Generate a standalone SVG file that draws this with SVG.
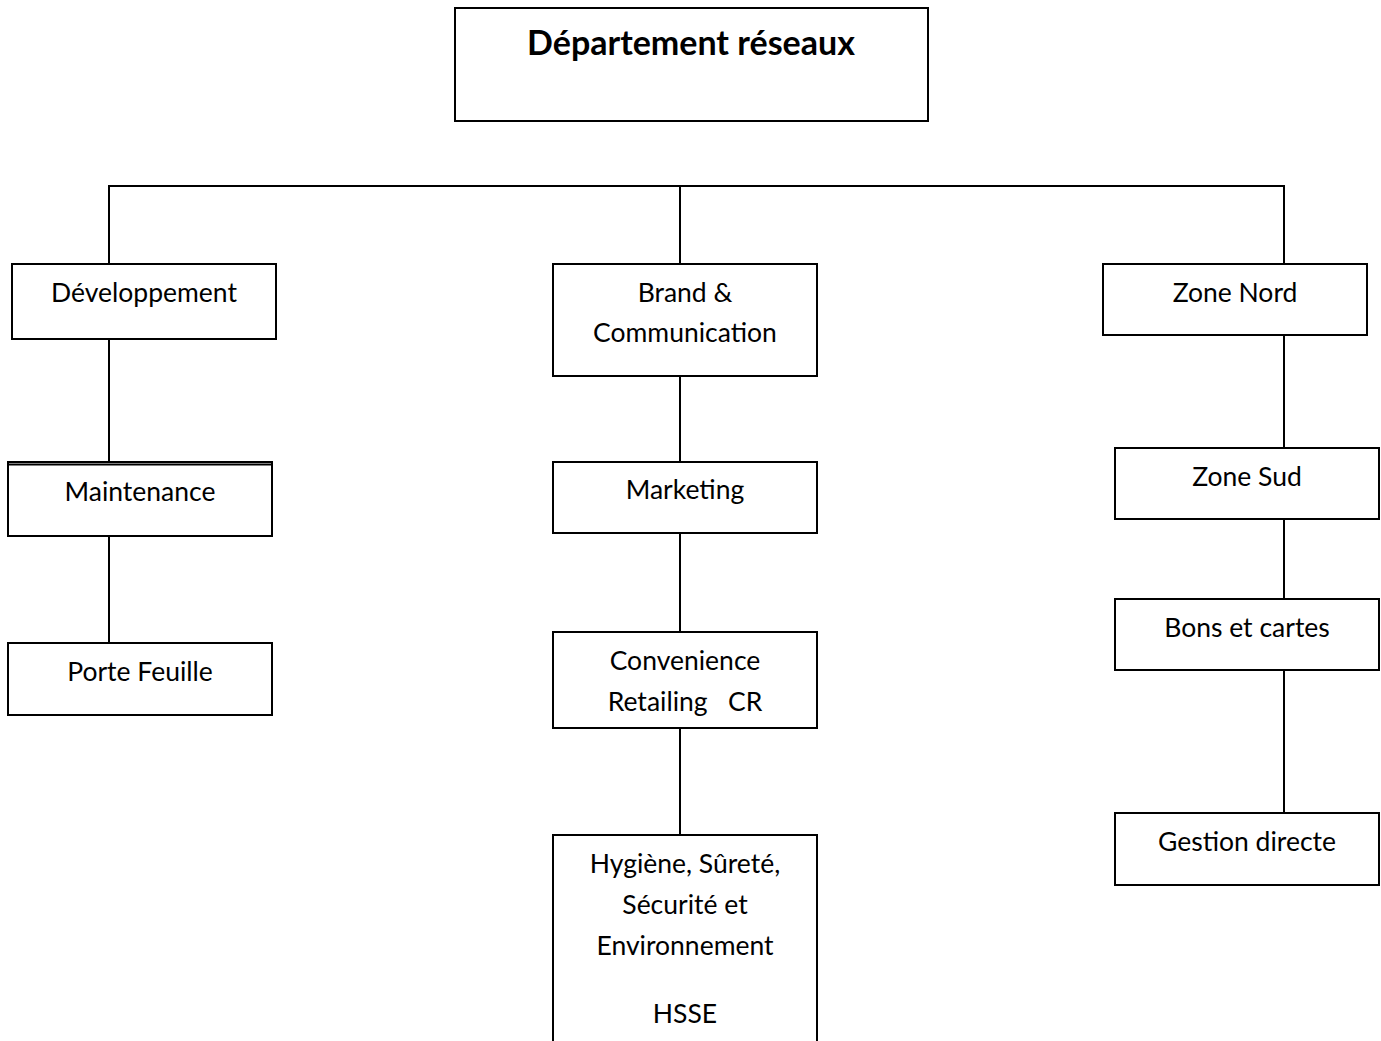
<svg xmlns="http://www.w3.org/2000/svg" width="1381" height="1041" viewBox="0 0 1381 1041">
<style>
.box{fill:#fff;stroke:#000;stroke-width:2}
.ln{stroke:#000;stroke-width:2;fill:none}
text{font-family:Lato,"Open Sans",sans-serif;font-size:26.5px;fill:#000;text-anchor:middle}
.title{font-weight:bold;font-size:34px}
</style>
<rect width="1381" height="1041" fill="#fff"/>
<g id="connectors">
<path class="ln" d="M109,264 V186 H1284 V264 M680,186 V264"/>
<path class="ln" d="M109,339 V462 M109,536 V643"/>
<path class="ln" d="M680,376 V462 M680,533 V632 M680,728 V835"/>
<path class="ln" d="M1284,335 V448 M1284,519 V599 M1284,670 V813"/>
</g>
<g id="n-dept"><rect class="box" x="455" y="8" width="473" height="113"/><text class="title" x="691" y="55">Département réseaux</text></g>
<g id="n-dev"><rect class="box" x="12" y="264" width="264" height="75"/><text x="144" y="302">Développement</text></g>
<g id="n-brand"><rect class="box" x="553" y="264" width="264" height="112"/><text x="685" y="302">Brand &amp;</text><text x="685" y="342">Communication</text></g>
<g id="n-nord"><rect class="box" x="1103" y="264" width="264" height="71"/><text x="1235" y="302">Zone Nord</text></g>
<g id="n-maint"><rect class="box" x="8" y="462" width="264" height="74"/><line class="ln" x1="8" y1="464.5" x2="272" y2="464.5" stroke-width="1"/><text x="140" y="501">Maintenance</text></g>
<g id="n-porte"><rect class="box" x="8" y="643" width="264" height="72"/><text x="140" y="681">Porte Feuille</text></g>
<g id="n-mkt"><rect class="box" x="553" y="462" width="264" height="71"/><text x="685" y="499">Marketing</text></g>
<g id="n-cr"><rect class="box" x="553" y="632" width="264" height="96"/><text x="685" y="670">Convenience</text><text x="685" y="711" xml:space="preserve">Retailing   CR</text></g>
<g id="n-hsse"><path class="box" d="M553,1045 V835 H817 V1045"/><text x="685" y="873">Hygiène, Sûreté,</text><text x="685" y="914">Sécurité et</text><text x="685" y="955">Environnement</text><text x="685" y="1023">HSSE</text></g>
<g id="n-sud"><rect class="box" x="1115" y="448" width="264" height="71"/><text x="1247" y="486">Zone Sud</text></g>
<g id="n-bons"><rect class="box" x="1115" y="599" width="264" height="71"/><text x="1247" y="637">Bons et cartes</text></g>
<g id="n-gest"><rect class="box" x="1115" y="813" width="264" height="72"/><text x="1247" y="851">Gestion directe</text></g>
</svg>
